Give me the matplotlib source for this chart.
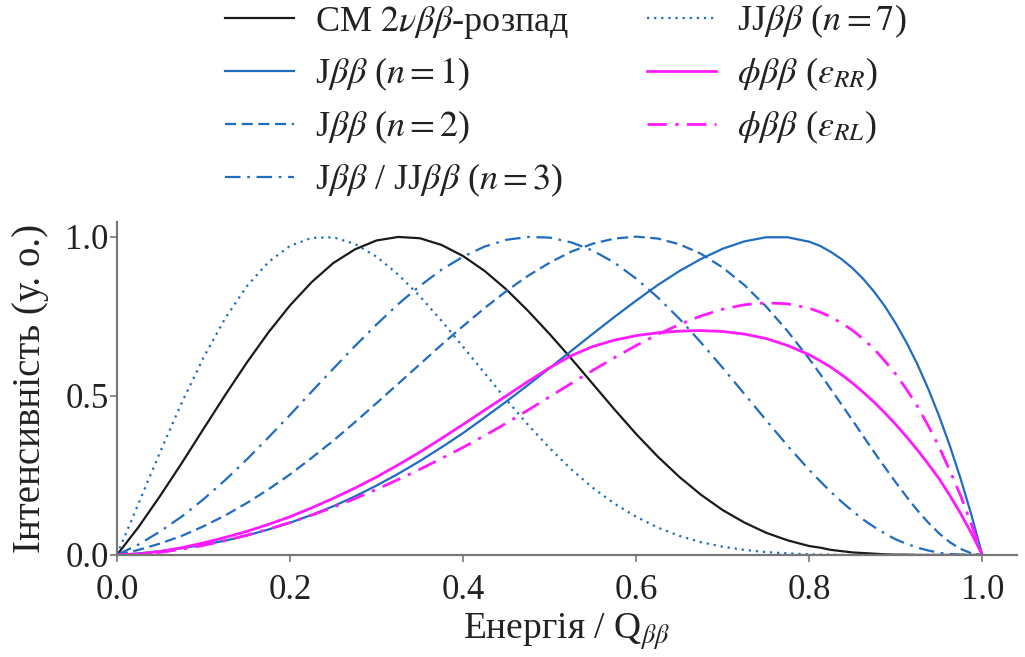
import matplotlib
matplotlib.use("Agg")
import matplotlib.pyplot as plt

plt.rcParams['font.family'] = ['Liberation Serif', 'DejaVu Serif']
plt.rcParams['mathtext.fontset'] = 'stix'

# energy / Q_bb (finer step near the end point where the curves drop fast)
energy = [0.0, 0.025, 0.05, 0.075, 0.1, 0.125, 0.15, 0.175, 0.2, 0.225,
          0.25, 0.275, 0.3, 0.325, 0.35, 0.375, 0.4, 0.425, 0.45, 0.475,
          0.5, 0.525, 0.55, 0.575, 0.6, 0.625, 0.65, 0.675, 0.7, 0.725,
          0.75, 0.775,
          0.8, 0.8125, 0.825, 0.8375, 0.85, 0.8625, 0.875, 0.8875, 0.9,
          0.9125, 0.925, 0.9375, 0.95, 0.9625, 0.975, 0.9875, 1.0]

sm_2nu = [0.0, 0.088, 0.186, 0.289, 0.396, 0.502, 0.604, 0.699, 0.784, 0.857,
          0.917, 0.960, 0.988, 0.999, 0.995, 0.974, 0.939, 0.892, 0.834, 0.767,
          0.694, 0.617, 0.537, 0.457, 0.380, 0.309, 0.245, 0.189, 0.141, 0.102,
          0.070, 0.046,
          0.028, 0.023, 0.016, 0.012, 0.008, 0.006, 0.004, 0.002, 0.001,
          0.001, 0.0, 0.0, 0.0, 0.0, 0.0, 0.0, 0.0]

j_n1 = [0.0, 0.005, 0.012, 0.021, 0.032, 0.045, 0.061, 0.080, 0.101, 0.126,
        0.153, 0.184, 0.218, 0.255, 0.295, 0.338, 0.383, 0.432, 0.482, 0.534,
        0.587, 0.641, 0.695, 0.748, 0.799, 0.848, 0.892, 0.930, 0.962, 0.985,
        0.998, 0.998,
        0.984, 0.971, 0.952, 0.929, 0.901, 0.867, 0.827, 0.781, 0.727,
        0.667, 0.599, 0.522, 0.437, 0.343, 0.239, 0.125, 0.0]

j_n2 = [0.0, 0.016, 0.036, 0.060, 0.090, 0.124, 0.163, 0.206, 0.253, 0.305,
        0.359, 0.417, 0.477, 0.538, 0.599, 0.660, 0.719, 0.776, 0.829, 0.877,
        0.918, 0.953, 0.978, 0.994, 1.000, 0.994, 0.976, 0.946, 0.903, 0.848,
        0.781, 0.703,
        0.616, 0.569, 0.521, 0.472, 0.423, 0.373, 0.323, 0.275, 0.228,
        0.183, 0.140, 0.102, 0.068, 0.040, 0.019, 0.005, 0.0]

j_n3 = [0.0, 0.033, 0.074, 0.121, 0.175, 0.235, 0.300, 0.369, 0.440, 0.513,
        0.585, 0.656, 0.724, 0.788, 0.845, 0.896, 0.937, 0.969, 0.990, 0.999,
        0.997, 0.982, 0.956, 0.918, 0.868, 0.809, 0.742, 0.667, 0.588, 0.506,
        0.424, 0.343,
        0.267, 0.232, 0.198, 0.167, 0.138, 0.111, 0.088, 0.067, 0.049,
        0.035, 0.023, 0.014, 0.007, 0.003, 0.001, 0.0, 0.0]

jj_n7 = [0.0, 0.162, 0.324, 0.479, 0.620, 0.743, 0.844, 0.920, 0.971, 0.996,
         0.998, 0.977, 0.937, 0.881, 0.813, 0.736, 0.654, 0.571, 0.488, 0.409,
         0.336, 0.269, 0.211, 0.161, 0.120, 0.086, 0.060, 0.040, 0.026, 0.016,
         0.009, 0.005,
         0.002, 0.001, 0.001, 0.0, 0.0, 0.0, 0.0, 0.0, 0.0,
         0.0, 0.0, 0.0, 0.0, 0.0, 0.0, 0.0, 0.0]

phi_rr = [0.0, 0.003, 0.011, 0.023, 0.038, 0.055, 0.074, 0.096, 0.120, 0.148,
          0.178, 0.210, 0.245, 0.283, 0.323, 0.366, 0.410, 0.455, 0.500, 0.545,
          0.588, 0.626, 0.655, 0.675, 0.689, 0.698, 0.703, 0.705, 0.702, 0.694,
          0.680, 0.658,
          0.629, 0.610, 0.590, 0.566, 0.540, 0.511, 0.480, 0.446, 0.410,
          0.371, 0.330, 0.286, 0.240, 0.187, 0.130, 0.068, 0.0]

phi_rl = [0.0, 0.002, 0.008, 0.018, 0.030, 0.045, 0.062, 0.081, 0.102, 0.125,
          0.150, 0.177, 0.206, 0.237, 0.269, 0.303, 0.338, 0.375, 0.414, 0.455,
          0.497, 0.539, 0.580, 0.620, 0.658, 0.693, 0.724, 0.751, 0.772, 0.786,
          0.792, 0.789,
          0.775, 0.763, 0.748, 0.728, 0.706, 0.678, 0.647, 0.609, 0.568,
          0.520, 0.467, 0.406, 0.340, 0.265, 0.186, 0.096, 0.0]

labels = [r'СМ $2\nu\beta\beta$-розпад',
          r'J$\beta\beta$ ($n=1$)',
          r'J$\beta\beta$ ($n=2$)',
          r'J$\beta\beta$ / JJ$\beta\beta$ ($n=3$)',
          r'JJ$\beta\beta$ ($n=7$)',
          r'$\phi\beta\beta$ ($\epsilon_{RR}$)',
          r'$\phi\beta\beta$ ($\epsilon_{RL}$)']

blue = '#1f6cc0'
pink = '#ff1aff'
dashdot = (0, (7, 3, 1.2, 3))

fig = plt.figure(figsize=(10.25, 6.57), dpi=100)
ax = fig.add_axes([0.1141, 0.1553, 0.8780, 0.5073])

kw = dict(lw=1.6, solid_joinstyle='round', dash_joinstyle='round')
ax.plot(energy, sm_2nu, color='#1a1a1a', label=labels[0], **kw)
ax.plot(energy, j_n1, color=blue, label=labels[1], **kw)
ax.plot(energy, j_n2, color=blue, ls=(0, (5, 2.5)), label=labels[2], **kw)
ax.plot(energy, j_n3, color=blue, ls=dashdot, label=labels[3], **kw)
ax.plot(energy, jj_n7, color=blue, ls=(0, (1, 2.2)), label=labels[4], **kw)
kw['lw'] = 2.0
ax.plot(energy, phi_rr, color=pink, label=labels[5], **kw)
ax.plot(energy, phi_rl, color=pink, ls=dashdot, label=labels[6], **kw)

ax.set_xlim(0, 1.04)
ax.set_ylim(0, 1.047)
ax.set_xticks([0.0, 0.2, 0.4, 0.6, 0.8, 1.0])
ax.set_yticks([0.0, 0.5, 1.0])
ax.xaxis.set_major_formatter(matplotlib.ticker.FormatStrFormatter('%.1f'))
ax.yaxis.set_major_formatter(matplotlib.ticker.FormatStrFormatter('%.1f'))

for s in ['top', 'right']:
    ax.spines[s].set_visible(False)
for s in ['left', 'bottom']:
    ax.spines[s].set_color('#777777')
    ax.spines[s].set_linewidth(1.6)
ax.tick_params(length=5, width=1.2, color='#777777', labelsize=25,
               labelcolor='#222222')
ax.tick_params(axis='x', pad=9)
ax.tick_params(axis='y', pad=1)

ax.set_xlabel(r'Енергія / Q$_{\beta\beta}$', fontsize=27, color='#222222', labelpad=3)
ax.set_ylabel('Інтенсивність (у. о.)', fontsize=28, color='#222222', labelpad=12)

fig.legend(loc='upper left', bbox_to_anchor=(0.188, 1.045), ncol=2, frameon=False,
           fontsize=26, handlelength=1.9, handletextpad=0.6, columnspacing=2.15,
           labelspacing=0.43, labelcolor='#222222')

fig.savefig('out.png', dpi=100)
